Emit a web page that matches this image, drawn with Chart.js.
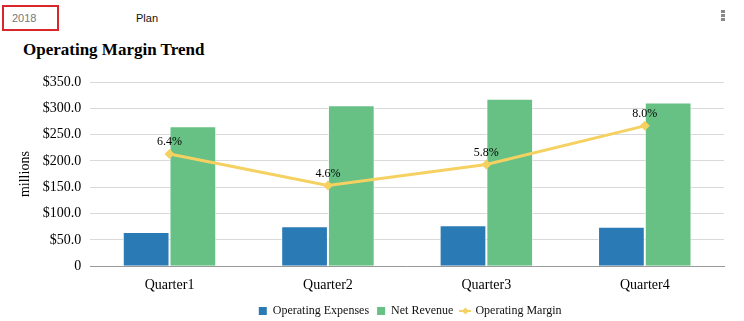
<!DOCTYPE html>
<html lang="en">

<head>
    <meta charset="UTF-8">
    <title>Operating Margin Trend</title>
    <script src="https://cdn.jsdelivr.net/npm/chart.js@4"></script>
    <style>
        body { margin: 0; width: 744px; height: 321px; background: #fff; position: relative; overflow: hidden; }
        .ano { position: absolute; left: 2px; top: 5px; width: 45px; height: 22px; border: 2px solid #d9262c;
               font: 11px "Liberation Sans", Arial, sans-serif; color: #777; line-height: 22px; padding-left: 8px; box-sizing: content-box; }
        .plano { position: absolute; left: 136px; top: 12px; font: 11px "Liberation Sans", Arial, sans-serif; color: #111; }
        .menu { position: absolute; left: 721px; top: 10px; width: 4px; }
        .menu span { display: block; width: 4px; height: 3px; background: #888; margin-bottom: 1px; }
        .titulo { position: absolute; left: 23px; top: 40px; font: bold 17px "Liberation Serif", "Times New Roman", serif; color: #000; }
        .grafico { position: absolute; left: 0; top: 60px; width: 744px; height: 267px; }
    </style>
</head>

<body>
    <div class="ano">2018</div>
    <div class="plano">Plan</div>
    <div class="menu"><span></span><span></span><span></span></div>
    <div class="titulo">Operating Margin Trend</div>
    <div class="grafico"><canvas id="ctx"></canvas></div>
</body>

</html>

<script>
    const trimestres = ['Quarter1', 'Quarter2', 'Quarter3', 'Quarter4'];
    const despesas = [65, 76, 78, 75];
    const receita = [266, 306, 318, 311];
    const margem = [6.4, 4.6, 5.8, 8.0];
    const ticksY = [0, 50, 100, 150, 200, 250, 300, 350];

    const serif = '"Liberation Serif", "Times New Roman", serif';
    const amarelo = '#f5d162';

    // icone da legenda para a linha: traço com losango no meio
    const iconeLinha = document.createElement('canvas');
    iconeLinha.width = 12;
    iconeLinha.height = 10;
    (function () {
        const g = iconeLinha.getContext('2d');
        g.fillStyle = amarelo;
        g.fillRect(0, 4, 12, 2);
        g.beginPath();
        g.moveTo(6, 1.5); g.lineTo(9.5, 5); g.lineTo(6, 8.5); g.lineTo(2.5, 5);
        g.closePath();
        g.fill();
    })();

    // escreve o valor em % acima de cada ponto da linha
    const rotulos = {
        id: 'rotulos',
        afterDatasetsDraw(chart) {
            const meta = chart.getDatasetMeta(2);
            const c = chart.ctx;
            c.save();
            c.font = '12px ' + serif;
            c.fillStyle = '#000';
            c.textAlign = 'center';
            c.textBaseline = 'bottom';
            meta.data.forEach((p, i) => {
                c.fillText(margem[i].toFixed(1) + '%', p.x, p.y - 6);
            });
            c.restore();
        }
    };

    // centraliza a legenda sob a area do grafico
    const legendaCentro = {
        id: 'legendaCentro',
        afterLayout(chart) {
            const lg = chart.legend, area = chart.chartArea;
            lg.left = area.left + 3;
            lg.right = area.right + 3;
            lg.width = lg.right - lg.left;
        }
    };

    new Chart(document.getElementById('ctx'), {
        type: 'bar',
        data: {
            labels: trimestres,
            datasets: [{
                label: 'Operating Expenses',
                data: despesas,
                backgroundColor: '#2a7ab5',
                borderColor: 'rgba(255,255,255,0.7)',
                borderWidth: 1,
                pointStyle: 'rect',
                order: 2
            }, {
                label: 'Net Revenue',
                data: receita,
                backgroundColor: '#67c084',
                borderColor: 'rgba(255,255,255,0.7)',
                borderWidth: 1,
                pointStyle: 'rect',
                order: 2
            }, {
                type: 'line',
                label: 'Operating Margin',
                data: margem,
                yAxisID: 'y1',
                borderColor: amarelo,
                backgroundColor: amarelo,
                borderWidth: 3,
                pointStyle: 'rectRot',
                pointRadius: 5,
                pointBorderWidth: 0,
                order: 1
            }]
        },
        options: {
            responsive: true,
            maintainAspectRatio: false,
            animation: false,
            datasets: { bar: { categoryPercentage: 0.59, barPercentage: 1 } },
            layout: { padding: { top: 22, right: 20, left: 11, bottom: 0 } },
            plugins: {
                tooltip: { enabled: false },
                legend: {
                    position: 'bottom',
                    labels: {
                        usePointStyle: true,
                        boxWidth: 8,
                        boxHeight: 8,
                        padding: 8,
                        color: '#111',
                        font: { family: serif, size: 12 },
                        sort: (a, b) => a.datasetIndex - b.datasetIndex,
                        generateLabels(chart) {
                            const itens = Chart.defaults.plugins.legend.labels.generateLabels(chart);
                            itens.forEach(it => {
                                if (it.datasetIndex === 2) it.pointStyle = iconeLinha;
                                it.lineWidth = 0;
                            });
                            return itens;
                        }
                    }
                }
            },
            scales: {
                x: {
                    grid: { display: false },
                    border: { color: '#999' },
                    ticks: { color: '#000', font: { family: serif, size: 14 }, padding: 3 }
                },
                y: {
                    min: 0,
                    max: 350,
                    afterBuildTicks(axis) { axis.ticks = ticksY.map(v => ({ value: v })); },
                    grid: { color: '#d9d9d9', drawTicks: false },
                    border: { display: false },
                    title: { display: true, text: 'millions', color: '#000', font: { family: serif, size: 14 }, padding: { top: 6, bottom: 0 } },
                    ticks: {
                        color: '#000',
                        padding: 9,
                        font: { family: serif, size: 14 },
                        callback: v => v === 0 ? '0' : '$' + v.toFixed(1)
                    }
                },
                y1: {
                    display: false,
                    min: 0,
                    max: 10.5
                }
            }
        },
        plugins: [rotulos, legendaCentro]
    });
</script>
